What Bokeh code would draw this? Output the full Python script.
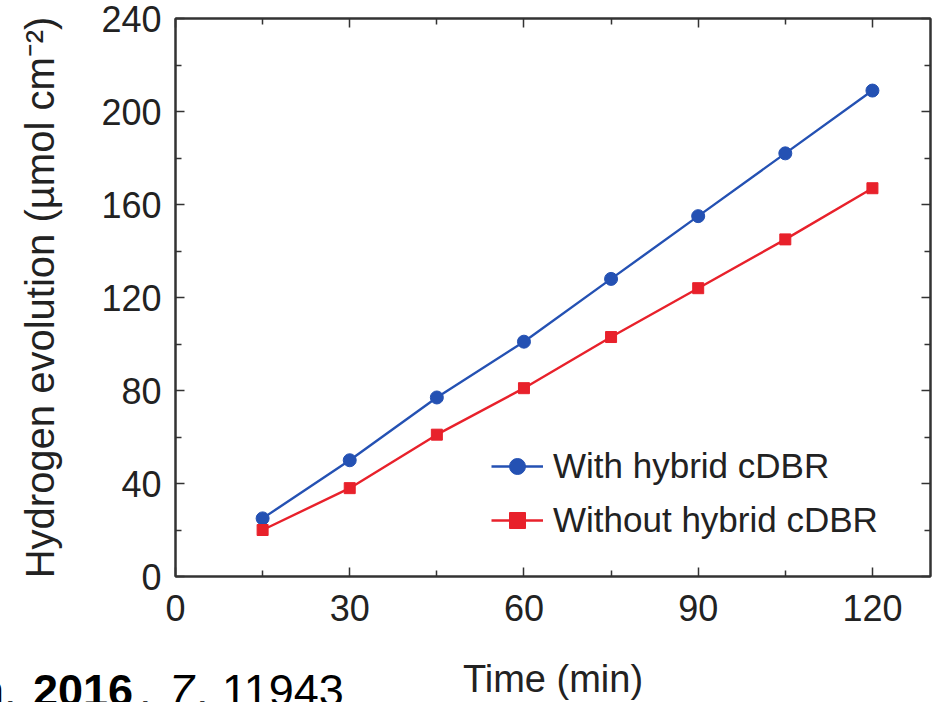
from bokeh.plotting import figure
from bokeh.models import LinearAxis, FixedTicker, Range1d, Legend, LegendItem, Div
from bokeh.layouts import column
from bokeh.embed import file_html
from bokeh.resources import INLINE

time_min = [15, 30, 45, 60, 75, 90, 105, 120]
with_cdbr = [25, 50, 77, 101, 128, 155, 182, 209]
without_cdbr = [20, 38, 61, 81, 103, 124, 145, 167]
x_ticks = [0, 30, 60, 90, 120]
x_minor = [15, 45, 75, 105]
y_ticks = [0, 40, 80, 120, 160, 200, 240]
y_minor = [20, 60, 100, 140, 180, 220]

FONT = "Liberation Sans"
BLUE = "#2451b3"
RED = "#e8212b"

p = figure(width=937, height=702, output_backend="svg", toolbar_location=None,
           x_range=Range1d(0, 130), y_range=Range1d(0, 240),
           min_border_left=175, min_border_right=7, min_border_top=18, min_border_bottom=125,
           x_axis_location=None, y_axis_location=None)
p.grid.visible = False
p.outline_line_color = "#333333"
p.outline_line_width = 2
p.background_fill_color = "white"
p.border_fill_color = "white"

def style_axis(ax, show_labels):
    ax.axis_line_color = "#333333"
    ax.axis_line_width = 2
    ax.major_tick_in = 9
    ax.major_tick_out = 0
    ax.minor_tick_in = 6
    ax.minor_tick_out = 0
    ax.major_tick_line_color = "#333333"
    ax.minor_tick_line_color = "#333333"
    ax.major_tick_line_width = 1.5
    ax.minor_tick_line_width = 1.5
    ax.major_label_text_font = FONT
    ax.major_label_text_color = "#222222"
    ax.axis_label_text_font = FONT
    ax.axis_label_text_font_style = "normal"
    ax.axis_label_text_color = "#222222"
    if not show_labels:
        ax.major_label_text_font_size = "0px"
        ax.major_label_standoff = 0

xt = FixedTicker(ticks=x_ticks, minor_ticks=x_minor)
yt = FixedTicker(ticks=y_ticks, minor_ticks=y_minor)

xb = LinearAxis(ticker=xt, axis_label="Time (min)")
style_axis(xb, True)
xb.major_label_text_font_size = "36px"
xb.major_label_standoff = 18
xb.axis_label_text_font_size = "38px"
xb.axis_label_standoff = 34
p.add_layout(xb, "below")

yl = LinearAxis(ticker=yt, axis_label="Hydrogen evolution (µmol cm⁻²)")
style_axis(yl, True)
yl.major_label_text_font_size = "36px"
yl.major_label_standoff = 14
yl.axis_label_text_font_size = "40px"
yl.axis_label_standoff = 36
p.add_layout(yl, "left")

xa = LinearAxis(ticker=xt)
style_axis(xa, False)
p.add_layout(xa, "above")

yr = LinearAxis(ticker=yt)
style_axis(yr, False)
p.add_layout(yr, "right")

l1 = p.line(time_min, with_cdbr, line_color=BLUE, line_width=2.4)
s1 = p.scatter(time_min, with_cdbr, marker="circle", size=13, fill_color=BLUE, line_color=BLUE)
l2 = p.line(time_min, without_cdbr, line_color=RED, line_width=2.4)
s2 = p.scatter(time_min, without_cdbr, marker="square", size=11, fill_color=RED, line_color=RED)

legend = Legend(items=[LegendItem(label="With hybrid cDBR", renderers=[l1, s1]),
                       LegendItem(label="Without hybrid cDBR", renderers=[l2, s2])],
                location=(316, 36), border_line_alpha=0, background_fill_alpha=0,
                label_text_font=FONT, label_text_font_size="35px", label_text_color="#222222",
                glyph_width=52, glyph_height=40, label_height=40, spacing=14, padding=0,
                label_standoff=10, margin=0)
p.add_layout(legend, "center")

# cropped citation line at the bottom-left, overlapping the figure's bottom edge
pieces = [("n.", "normal", "normal", -21), ("2016", "bold", "normal", 33),
          (",", "normal", "normal", 139), ("7", "normal", "italic", 169),
          (",", "normal", "normal", 196), ("11943", "normal", "normal", 222)]
spans = "".join(
    f'<span style="position:absolute; top:0; left:{x}px; font-weight:{w}; font-style:{s};">{t}</span>'
    for t, w, s, x in pieces)
cite_html = ('<div style="position:relative; height:34px; white-space:nowrap; '
             'font-family:\'Liberation Sans\'; font-size:45px; line-height:45px; color:#000;">'
             + spans + '</div>')
cite = Div(text=cite_html, width=380, height=34, margin=(-34, 0, 0, 0),
           styles={"overflow": "hidden"})

layout = column(p, cite, spacing=0)
open("out.html", "w").write(file_html(layout, INLINE))
